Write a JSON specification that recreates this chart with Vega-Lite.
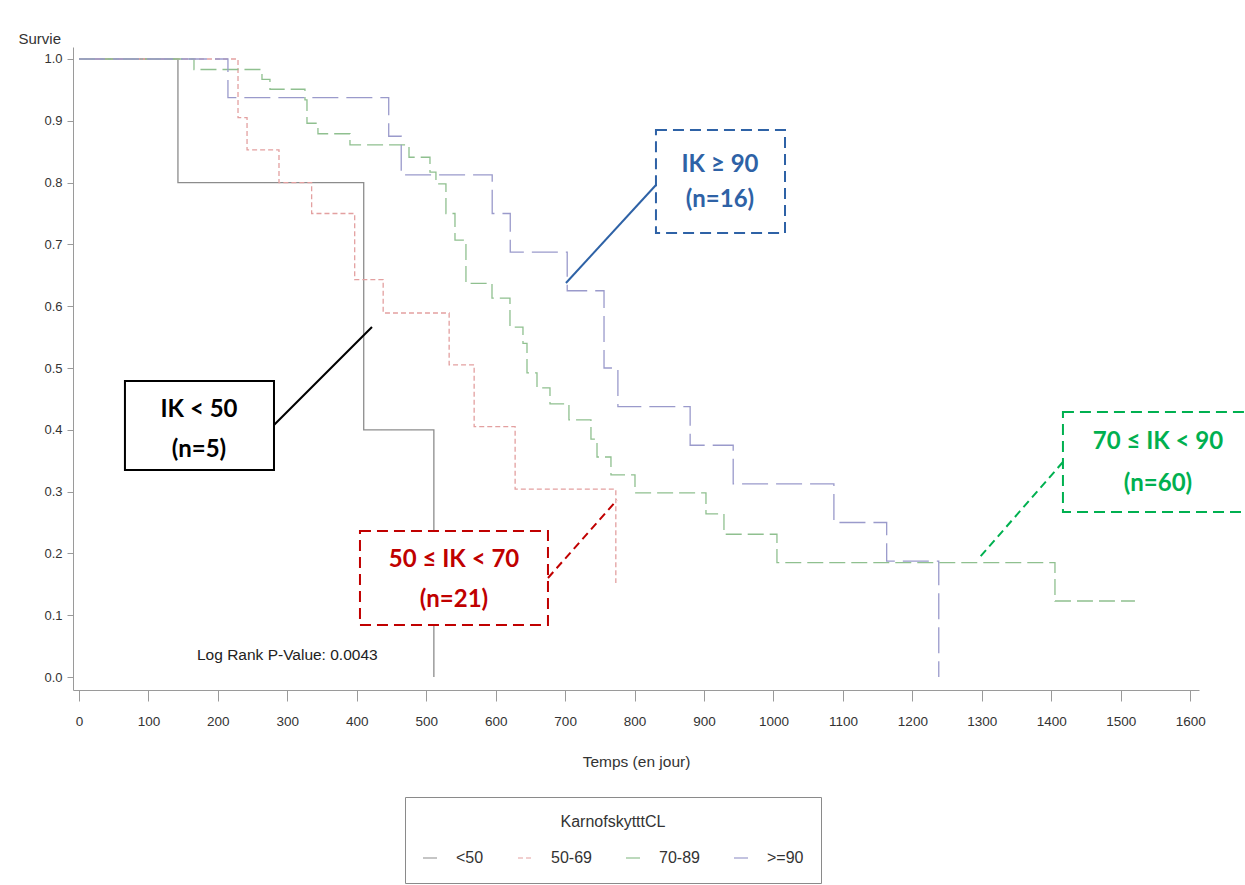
{
  "$schema": "https://vega.github.io/schema/vega-lite/v6.json",
  "width": 1126,
  "height": 643,
  "autosize": "none",
  "padding": {"left": 73, "top": 47, "right": 46, "bottom": 195},
  "background": "white",
  "config": {
    "view": {"stroke": null},
    "font": "Liberation Sans",
    "axis": {"grid": false, "domainColor": "#9a9a9a", "tickColor": "#9a9a9a", "labelColor": "#333333", "titleColor": "#333333", "labelFont": "Liberation Sans", "titleFont": "Liberation Sans", "titleFontWeight": "normal"}
  },
  "datasets": {
    "curves": [
      {"group": "<50", "t": 0, "s": 1.0},
      {"group": "<50", "t": 142.5, "s": 0.8},
      {"group": "<50", "t": 410, "s": 0.4},
      {"group": "<50", "t": 511, "s": 0.0},
      {"group": "50-69", "t": 0, "s": 1.0},
      {"group": "50-69", "t": 229, "s": 0.905},
      {"group": "50-69", "t": 242, "s": 0.853},
      {"group": "50-69", "t": 288, "s": 0.8},
      {"group": "50-69", "t": 335, "s": 0.75},
      {"group": "50-69", "t": 397, "s": 0.643},
      {"group": "50-69", "t": 438, "s": 0.589},
      {"group": "50-69", "t": 533, "s": 0.505},
      {"group": "50-69", "t": 569, "s": 0.405},
      {"group": "50-69", "t": 628, "s": 0.304},
      {"group": "50-69", "t": 773, "s": 0.152},
      {"group": "70-89", "t": 0, "s": 1.0},
      {"group": "70-89", "t": 165.6, "s": 0.983},
      {"group": "70-89", "t": 263.5, "s": 0.967},
      {"group": "70-89", "t": 275.0, "s": 0.951},
      {"group": "70-89", "t": 325.4, "s": 0.934},
      {"group": "70-89", "t": 328.3, "s": 0.896},
      {"group": "70-89", "t": 344.1, "s": 0.879},
      {"group": "70-89", "t": 390.2, "s": 0.861},
      {"group": "70-89", "t": 475.2, "s": 0.841},
      {"group": "70-89", "t": 505.4, "s": 0.817},
      {"group": "70-89", "t": 514.0, "s": 0.798},
      {"group": "70-89", "t": 528.4, "s": 0.75},
      {"group": "70-89", "t": 541.4, "s": 0.707},
      {"group": "70-89", "t": 557.2, "s": 0.637},
      {"group": "70-89", "t": 594.7, "s": 0.613},
      {"group": "70-89", "t": 620.6, "s": 0.566},
      {"group": "70-89", "t": 639.3, "s": 0.54},
      {"group": "70-89", "t": 645.1, "s": 0.492},
      {"group": "70-89", "t": 659.5, "s": 0.468},
      {"group": "70-89", "t": 678.2, "s": 0.442},
      {"group": "70-89", "t": 705.5, "s": 0.416},
      {"group": "70-89", "t": 737.2, "s": 0.385},
      {"group": "70-89", "t": 745.9, "s": 0.356},
      {"group": "70-89", "t": 766.0, "s": 0.327},
      {"group": "70-89", "t": 800.6, "s": 0.298},
      {"group": "70-89", "t": 902.8, "s": 0.264},
      {"group": "70-89", "t": 928.7, "s": 0.231},
      {"group": "70-89", "t": 1005.0, "s": 0.185},
      {"group": "70-89", "t": 1405.3, "s": 0.123},
      {"group": "70-89", "t": 1520.5, "s": 0.123},
      {"group": ">=90", "t": 0, "s": 1.0},
      {"group": ">=90", "t": 214.5, "s": 0.9375},
      {"group": ">=90", "t": 446, "s": 0.875},
      {"group": ">=90", "t": 464, "s": 0.8125},
      {"group": ">=90", "t": 595, "s": 0.75},
      {"group": ">=90", "t": 621, "s": 0.6875},
      {"group": ">=90", "t": 703, "s": 0.625},
      {"group": ">=90", "t": 756, "s": 0.5},
      {"group": ">=90", "t": 776, "s": 0.4375},
      {"group": ">=90", "t": 880, "s": 0.375},
      {"group": ">=90", "t": 942, "s": 0.3125},
      {"group": ">=90", "t": 1087, "s": 0.25},
      {"group": ">=90", "t": 1163, "s": 0.1875},
      {"group": ">=90", "t": 1238, "s": 0.0}
    ],
    "annot": [
      {"annot": "a90", "x1": 830.8, "x2": 1016.6, "y1": 0.8851, "y2": 0.7184, "tx": 923.0, "ty1": 0.8285, "ty2": 0.7718, "line1": "IK ≥ 90", "line2": "(n=16)", "lx1": 830.8, "ly1": 0.7961, "lx2": 701.2, "ly2": 0.6375},
      {"annot": "a50", "x1": 66.2, "x2": 280.8, "y1": 0.479, "y2": 0.335, "tx": 172.8, "ty1": 0.432, "ty2": 0.3673, "line1": "IK < 50", "line2": "(n=5)", "lx1": 280.8, "ly1": 0.4078, "lx2": 421.9, "ly2": 0.5663},
      {"annot": "a5070", "x1": 404.6, "x2": 675.3, "y1": 0.2362, "y2": 0.0841, "tx": 540.0, "ty1": 0.1893, "ty2": 0.1246, "line1": "50 ≤ IK < 70", "line2": "(n=21)", "lx1": 675.3, "ly1": 0.1602, "lx2": 774.7, "ly2": 0.2864},
      {"annot": "a7090", "x1": 1416.8, "x2": 1693.3, "y1": 0.4288, "y2": 0.267, "tx": 1553.6, "ty1": 0.3803, "ty2": 0.3123, "line1": "70 ≤ IK < 90", "line2": "(n=60)", "lx1": 1416.8, "ly1": 0.3479, "lx2": 1297.3, "ly2": 0.1942}
    ],
    "note": [
      {"label": "Log Rank P-Value: 0.0043", "t": 169.9, "s": 0.0356}
    ]
  },
  "layer": [
    {
      "data": {"name": "curves"},
      "mark": {"type": "line", "interpolate": "step-after", "strokeWidth": 1.3},
      "encoding": {
        "x": {"field": "t", "type": "quantitative", "scale": {"domain": [-8.6, 1612.7], "nice": false, "zero": false},
              "axis": {"title": "Temps (en jour)", "format": "d", "values": [0,100,200,300,400,500,600,700,800,900,1000,1100,1200,1300,1400,1500,1600], "tickSize": 11, "labelPadding": 13, "labelFont": "Liberation Sans Narrow, Liberation Sans", "labelFontSize": 13.5, "titleFontSize": 15.5, "titlePadding": 27}},
        "y": {"field": "s", "type": "quantitative", "scale": {"domain": [-0.021, 1.0194], "nice": false, "zero": false},
              "axis": {"title": "Survie", "values": [0,0.1,0.2,0.3,0.4,0.5,0.6,0.7,0.8,0.9,1.0], "format": ".1f", "tickSize": 6, "labelPadding": 5, "labelFontSize": 13, "titleFontSize": 15, "titleAngle": 0, "titleAlign": "left", "titleBaseline": "middle", "titleX": -55, "titleY": -9}},
        "color": {"field": "group", "type": "nominal", "title": "KarnofskytttCL",
                  "scale": {"domain": ["<50", "50-69", "70-89", ">=90"], "range": ["#8c8c8c", "#e3a0a0", "#8fc08f", "#9a9acb"]},
                  "legend": {"orient": "none", "legendX": 332, "legendY": 750, "direction": "horizontal", "columns": 4, "strokeColor": "#8a8a8a", "padding": 17, "titleAnchor": "middle", "titleFontWeight": "normal", "titleFont": "Liberation Sans", "titleFontSize": 16, "titleColor": "#333333", "labelFont": "Liberation Sans", "labelFontSize": 16, "labelColor": "#333333", "symbolType": "stroke", "symbolSize": 196, "symbolStrokeWidth": 1.2, "columnPadding": 31, "labelOffset": 18, "titlePadding": 20}},
        "strokeDash": {"field": "group", "type": "nominal",
                       "scale": {"domain": ["<50", "50-69", "70-89", ">=90"], "range": [[1, 0], [5, 3], [16, 6], [26, 8]]},
                       "legend": null}
      }
    },
    {
      "data": {"name": "annot"},
      "transform": [{"filter": "datum.annot === 'a50'"}],
      "mark": {"type": "rect", "fill": "white", "stroke": "#000000", "strokeWidth": 2},
      "encoding": {
        "x": {"field": "x1", "type": "quantitative"}, "x2": {"field": "x2"},
        "y": {"field": "y1", "type": "quantitative"}, "y2": {"field": "y2"}
      }
    },
    {
      "data": {"name": "annot"},
      "transform": [{"filter": "datum.annot !== 'a50'"}],
      "mark": {"type": "rect", "fill": "white", "strokeWidth": 2, "strokeDash": [11, 6]},
      "encoding": {
        "x": {"field": "x1", "type": "quantitative"}, "x2": {"field": "x2"},
        "y": {"field": "y1", "type": "quantitative"}, "y2": {"field": "y2"},
        "stroke": {"field": "annot", "type": "nominal", "scale": {"domain": ["a90", "a50", "a5070", "a7090"], "range": ["#2E62A6", "#000000", "#C00000", "#00B050"]}, "legend": null}
      }
    },
    {
      "data": {"name": "annot"},
      "transform": [{"filter": "datum.annot === 'a90' || datum.annot === 'a50'"}],
      "mark": {"type": "rule", "strokeWidth": 2},
      "encoding": {
        "x": {"field": "lx1", "type": "quantitative"}, "x2": {"field": "lx2"},
        "y": {"field": "ly1", "type": "quantitative"}, "y2": {"field": "ly2"},
        "stroke": {"field": "annot", "type": "nominal", "legend": null}
      }
    },
    {
      "data": {"name": "annot"},
      "transform": [{"filter": "datum.annot === 'a5070' || datum.annot === 'a7090'"}],
      "mark": {"type": "rule", "strokeWidth": 2, "strokeDash": [8, 5]},
      "encoding": {
        "x": {"field": "lx1", "type": "quantitative"}, "x2": {"field": "lx2"},
        "y": {"field": "ly1", "type": "quantitative"}, "y2": {"field": "ly2"},
        "stroke": {"field": "annot", "type": "nominal", "legend": null}
      }
    },
    {
      "data": {"name": "annot"},
      "mark": {"type": "text", "font": "Lato, DejaVu Sans", "fontWeight": "bold", "fontSize": 24, "align": "center", "baseline": "middle"},
      "encoding": {
        "x": {"field": "tx", "type": "quantitative"},
        "y": {"field": "ty1", "type": "quantitative"},
        "text": {"field": "line1"},
        "fill": {"field": "annot", "type": "nominal", "scale": {"domain": ["a90", "a50", "a5070", "a7090"], "range": ["#2E62A6", "#000000", "#C00000", "#00B050"]}, "legend": null}
      }
    },
    {
      "data": {"name": "annot"},
      "mark": {"type": "text", "font": "Lato, DejaVu Sans", "fontWeight": "bold", "fontSize": 24, "align": "center", "baseline": "middle"},
      "encoding": {
        "x": {"field": "tx", "type": "quantitative"},
        "y": {"field": "ty2", "type": "quantitative"},
        "text": {"field": "line2"},
        "fill": {"field": "annot", "type": "nominal", "legend": null}
      }
    },
    {
      "data": {"name": "note"},
      "mark": {"type": "text", "font": "Liberation Sans", "fontSize": 15.5, "align": "left", "baseline": "middle", "color": "#222222"},
      "encoding": {
        "x": {"field": "t", "type": "quantitative"},
        "y": {"field": "s", "type": "quantitative"},
        "text": {"field": "label"}
      }
    }
  ]
}
